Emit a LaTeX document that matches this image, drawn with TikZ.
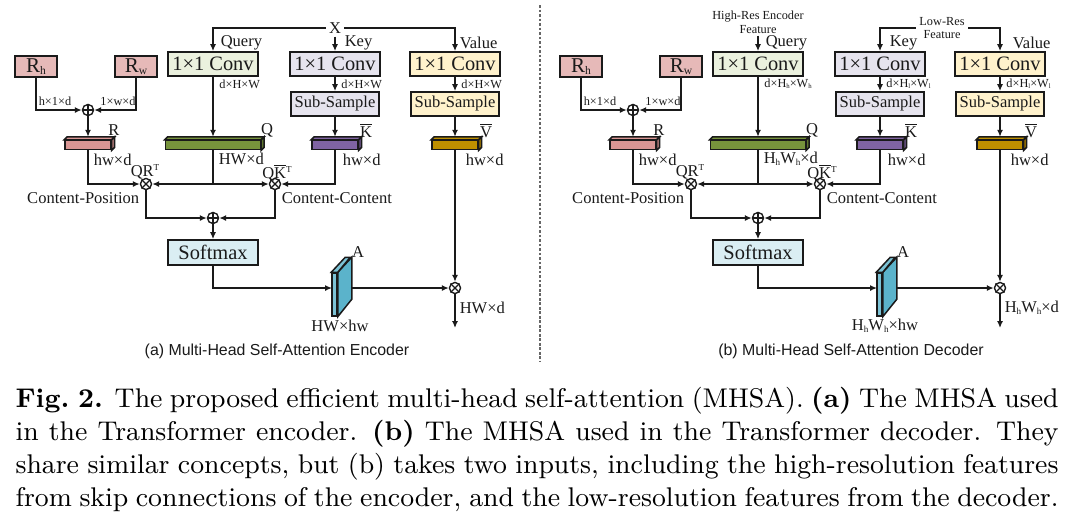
\documentclass[tikz,border=0pt]{standalone}
\usepackage{fontspec}
\usetikzlibrary{arrows.meta}
\newfontfamily\dfont{Liberation Serif}
\newfontfamily\sfont{Liberation Sans}
\definecolor{rcol}{HTML}{E6B9B8}
\definecolor{rbarc}{HTML}{D99694}
\definecolor{qcol}{HTML}{EBF1DE}
\definecolor{qbarc}{HTML}{77933C}
\definecolor{kcol}{HTML}{E6E4EE}
\definecolor{kbarc}{HTML}{8064A2}
\definecolor{vcol}{HTML}{FFF2CC}
\definecolor{vbarc}{HTML}{BF9000}
\definecolor{smcol}{HTML}{DAEEF3}
\definecolor{acol}{HTML}{5BB3CB}
\definecolor{acolf}{HTML}{7CC3D6}
\definecolor{ink}{HTML}{1A1A1A}
\tikzset{
 conn/.style={line width=0.45pt, draw=ink},
 arr/.style={conn, -{Latex[length=2.3pt,width=2pt]}},
 box/.style={draw=ink, line width=0.6pt, inner sep=0pt, text=ink},
 conv/.style={box, minimum width=30pt, minimum height=8pt, font=\dfont\fontsize{6.8}{7}\selectfont},
 subs/.style={box, minimum width=29.5pt, minimum height=8pt, font=\dfont\fontsize{5.5}{6}\selectfont},
 rbox/.style={box, fill=rcol, minimum width=14pt, minimum height=7pt, font=\dfont\fontsize{7}{7}\selectfont},
 smbox/.style={box, fill=smcol, minimum width=30pt, minimum height=8.3pt, font=\dfont\fontsize{6.8}{7}\selectfont},
 barf/.style={draw=ink, line width=0.5pt, minimum height=3pt, inner sep=0pt},
 face/.style={draw=ink, line width=0.5pt},
 op/.style={circle, draw=ink, line width=0.45pt, fill=white, minimum size=3.7pt, inner sep=0pt},
 lab/.style={inner sep=0.4pt, text=ink, font=\dfont\fontsize{5.5}{6}\selectfont},
 tinylab/.style={inner sep=0.6pt, text=ink, font=\dfont\fontsize{4.1}{4.7}\selectfont},
 subcap/.style={inner sep=0pt, text=ink, font=\sfont\fontsize{5.3}{6}\selectfont},
 sepline/.style={draw=black!60, line width=0.35pt, dash pattern=on 0.9pt off 0.6pt},
}
\newcommand\sbs[1]{\raisebox{-0.2ex}{\scalebox{0.55}{#1}}}
\newcommand\sps[1]{\raisebox{0.85ex}{\scalebox{0.55}{#1}}}
\newcommand\olbar[1]{\setbox0\hbox{#1}\rlap{\raisebox{\dimexpr\ht0+0.75pt\relax}{\rule{\wd0}{0.28pt}}}\box0}
\newcommand\kbar{\olbar{K}}
\newcommand\vbar{\olbar{V}}
\newcommand\mkplus[2]{\node[op] (#1) at (#2) {};
 \draw[conn] (#1.north) -- (#1.south) (#1.west) -- (#1.east);}
\newcommand\mktimes[2]{\node[op] (#1) at (#2) {};
 \draw[conn] (#1.north east) -- (#1.south west) (#1.north west) -- (#1.south east);}
\newcommand\mkbar[4]{%
 \node[barf, fill=#4, minimum width=#3] (#1) at (#2) {};
 \draw[face, fill=#4] (#1.north west) -- ++(3,-3) -- ([shift={(3,-3)}]#1.north east) -- (#1.north east) -- cycle;
 \draw[face, fill=#4!80!black] (#1.north east) -- ++(3,-3) -- ([shift={(3,-3)}]#1.south east) -- (#1.south east) -- cycle;}
\newcommand\drawpanel[7]{%
\begin{scope}[shift={(#2,0)}]
 \node[rbox] (#1rh) at (36,66.5) {R\sbs{h}};
 \node[rbox] (#1rw) at (136,66.5) {R\sbs{w}};
 \node[conv, fill=qcol] (#1qconv) at (213,64) {1×1 Conv};
 \node[conv, fill=kcol] (#1kconv) at (335,64) {1×1 Conv};
 \node[conv, fill=vcol] (#1vconv) at (455,64) {1×1 Conv};
 \node[subs, fill=kcol] (#1ksub) at (335,104) {Sub-Sample};
 \node[subs, fill=vcol] (#1vsub) at (455,104) {Sub-Sample};
 \mkplus{#1pr}{88,110}
 \mkbar{#1Rbar}{88,145}{15.3pt}{rbarc}
 \mkbar{#1Qbar}{213,145}{31.6pt}{qbarc}
 \mkbar{#1Kbar}{335,145}{15.3pt}{kbarc}
 \mkbar{#1Vbar}{455,145}{15.3pt}{vbarc}
 \mktimes{#1qr}{146,184}
 \mktimes{#1qk}{275,184}
 \mkplus{#1ps}{213,218}
 \node[smbox] (#1sm) at (213,252.5) {Softmax};
 \node[draw=ink, line width=0.5pt, fill=acolf, minimum width=1.67pt, minimum height=14.3pt, inner sep=0pt] (#1A) at (334.5,294.5) {};
 \draw[face, fill=acol] (#1A.north east) -- ++(14,-15) -- ++(0,42) -- (#1A.south east) -- cycle;
 \draw[face, fill=acolf] (#1A.north west) -- ++(14,-15) -- ++(5,0) -- (#1A.north east) -- cycle;
 \mktimes{#1mv}{455,288}
 \coordinate (#1ain) at (332,288);
 \coordinate (#1aout) at (351,288);
 \coordinate (#1out) at (455,328);
 \coordinate (#1qj) at (213,184);
 % labels
 \node[tinylab] (#1l1) at (55,101) {h×1×d};
 \node[tinylab] (#1l2) at (118,101) {1×w×d};
 \node[tinylab, anchor=west] (#1l3) at (217,84) {#3};
 \node[tinylab, anchor=west] (#1l4) at (339,84) {#4};
 \node[tinylab, anchor=west] (#1l5) at (459,84) {#4};
 \node[lab] (#1lR) at (114,130) {R};
 \node[lab] (#1lQ) at (267,130) {Q};
 \node[lab] (#1lK) at (366,131) {\kbar};
 \node[lab] (#1lV) at (486,131) {\vbar};
 \node[lab, anchor=west] (#1d1) at (92,160) {hw×d};
 \node[lab, anchor=west] (#1d2) at (217,159) {#5};
 \node[lab, anchor=west] (#1d3) at (341,160) {hw×d};
 \node[lab, anchor=west] (#1d4) at (464,160) {hw×d};
 \node[lab] (#1lqr) at (145,172) {QR\sps{T}};
 \node[lab] (#1lqk) at (277,173) {Q\kbar\sps{T}};
 \node[lab, anchor=east] (#1cp) at (141,198) {Content-Position};
 \node[lab, anchor=west] (#1cc) at (280,198) {Content-Content};
 \node[lab] (#1lA) at (358,252) {A};
 \node[lab] (#1dA) at (340,326) {#6};
 \node[lab, anchor=west] (#1dout) at (458,308) {#7};
 % connectors
 \draw[arr] (#1rh.south) |- (#1pr.west);
 \draw[arr] (#1rw.south) |- (#1pr.east);
 \draw[arr] (#1pr.south) -- ([yshift=1pt]#1pr.south |- #1Rbar.north);
 \draw[arr] (#1qconv.south) -- ([yshift=1pt]#1Qbar.north);
 \draw[arr] (#1kconv.south) -- (#1ksub.north);
 \draw[arr] (#1vconv.south) -- (#1vsub.north);
 \draw[arr] (#1ksub.south) -- ([yshift=1pt]#1Kbar.north);
 \draw[arr] (#1vsub.south) -- ([yshift=1pt]#1Vbar.north);
 \draw[arr] (#1Rbar.south) |- (#1qr.west);
 \draw[conn] (#1Qbar.south) -- (#1qj);
 \draw[arr] (#1qj) -- (#1qr.east);
 \draw[arr] (#1qj) -- (#1qk.west);
 \draw[arr] (#1Kbar.south) |- (#1qk.east);
 \draw[arr] (#1qr.south) |- (#1ps.west);
 \draw[arr] (#1qk.south) |- (#1ps.east);
 \draw[arr] (#1ps.south) -- (#1sm.north);
 \draw[arr] (#1sm.south) |- (#1ain);
 \draw[arr] (#1aout) -- (#1mv.west);
 \draw[arr] (#1Vbar.south) -- (#1mv.north);
 \draw[arr] (#1mv.south) -- (#1out);
\end{scope}}
\begin{document}
\begin{tikzpicture}[x=0.333pt, y=-0.333pt]
\useasboundingbox (0,0) rectangle (1080,519);
\fill[white] (0,0) rectangle (1080,519);
% panel (a)
\drawpanel{a}{0}{d×H×W}{d×H×W}{HW×d}{HW×hw}{HW×d}
\node[lab, inner sep=0.9pt] (aX) at (335,28) {X};
\draw[arr] (aX.west) -| (aqconv.north);
\draw[arr] (aX.east) -| (avconv.north);
\draw[arr] (aX.south) -- (akconv.north);
\node[lab, anchor=west] (aquery) at (219,43) {Query};
\node[lab, anchor=west] (akey) at (343,43) {Key};
\node[lab, anchor=west] (avalue) at (458,43) {Value};
\node[subcap] (acap) at (277,351) {(a) Multi-Head Self-Attention Encoder};
% separator
\draw[sepline] (540,5) -- (540,362);
% panel (b)
\drawpanel{b}{545}{d×H\sbs{h}×W\sbs{h}}{d×H\sbs{l}×W\sbs{l}}{H\sbs{h}W\sbs{h}×d}{H\sbs{h}W\sbs{h}×hw}{H\sbs{h}W\sbs{h}×d}
\node[tinylab, align=center, font=\dfont\fontsize{4.1}{4.66}\selectfont] (bhr) at (758,22) {High-Res Encoder\\Feature};
\draw[arr] (bhr.south) -- (bqconv.north);
\node[tinylab, align=center, inner sep=1pt, font=\dfont\fontsize{4.1}{4.5}\selectfont] (blr) at (942,28) {Low-Res\\Feature};
\draw[arr] (blr.west) -| (bkconv.north);
\draw[arr] (blr.east) -| (bvconv.north);
\node[lab, anchor=west] (bquery) at (764,43) {Query};
\node[lab, anchor=west] (bkey) at (888,43) {Key};
\node[lab, anchor=west] (bvalue) at (1011,43) {Value};
\node[subcap] (bcap) at (851,351) {(b) Multi-Head Self-Attention Decoder};
% caption
\node[anchor=base west, inner sep=0pt] (cap) at (15,407) {\parbox[t]{347.3pt}{\fontsize{9}{11}\selectfont\parfillskip=0pt
\textbf{Fig.~2.} The proposed efficient multi-head self-attention (MHSA). \textbf{(a)} The MHSA used\linebreak
in the Transformer encoder. \textbf{(b)} The MHSA used in the Transformer decoder. They\linebreak
share similar concepts, but (b) takes two inputs, including the high-resolution features\linebreak
from skip connections of the encoder, and the low-resolution features from the decoder.}};
\end{tikzpicture}
\end{document}
